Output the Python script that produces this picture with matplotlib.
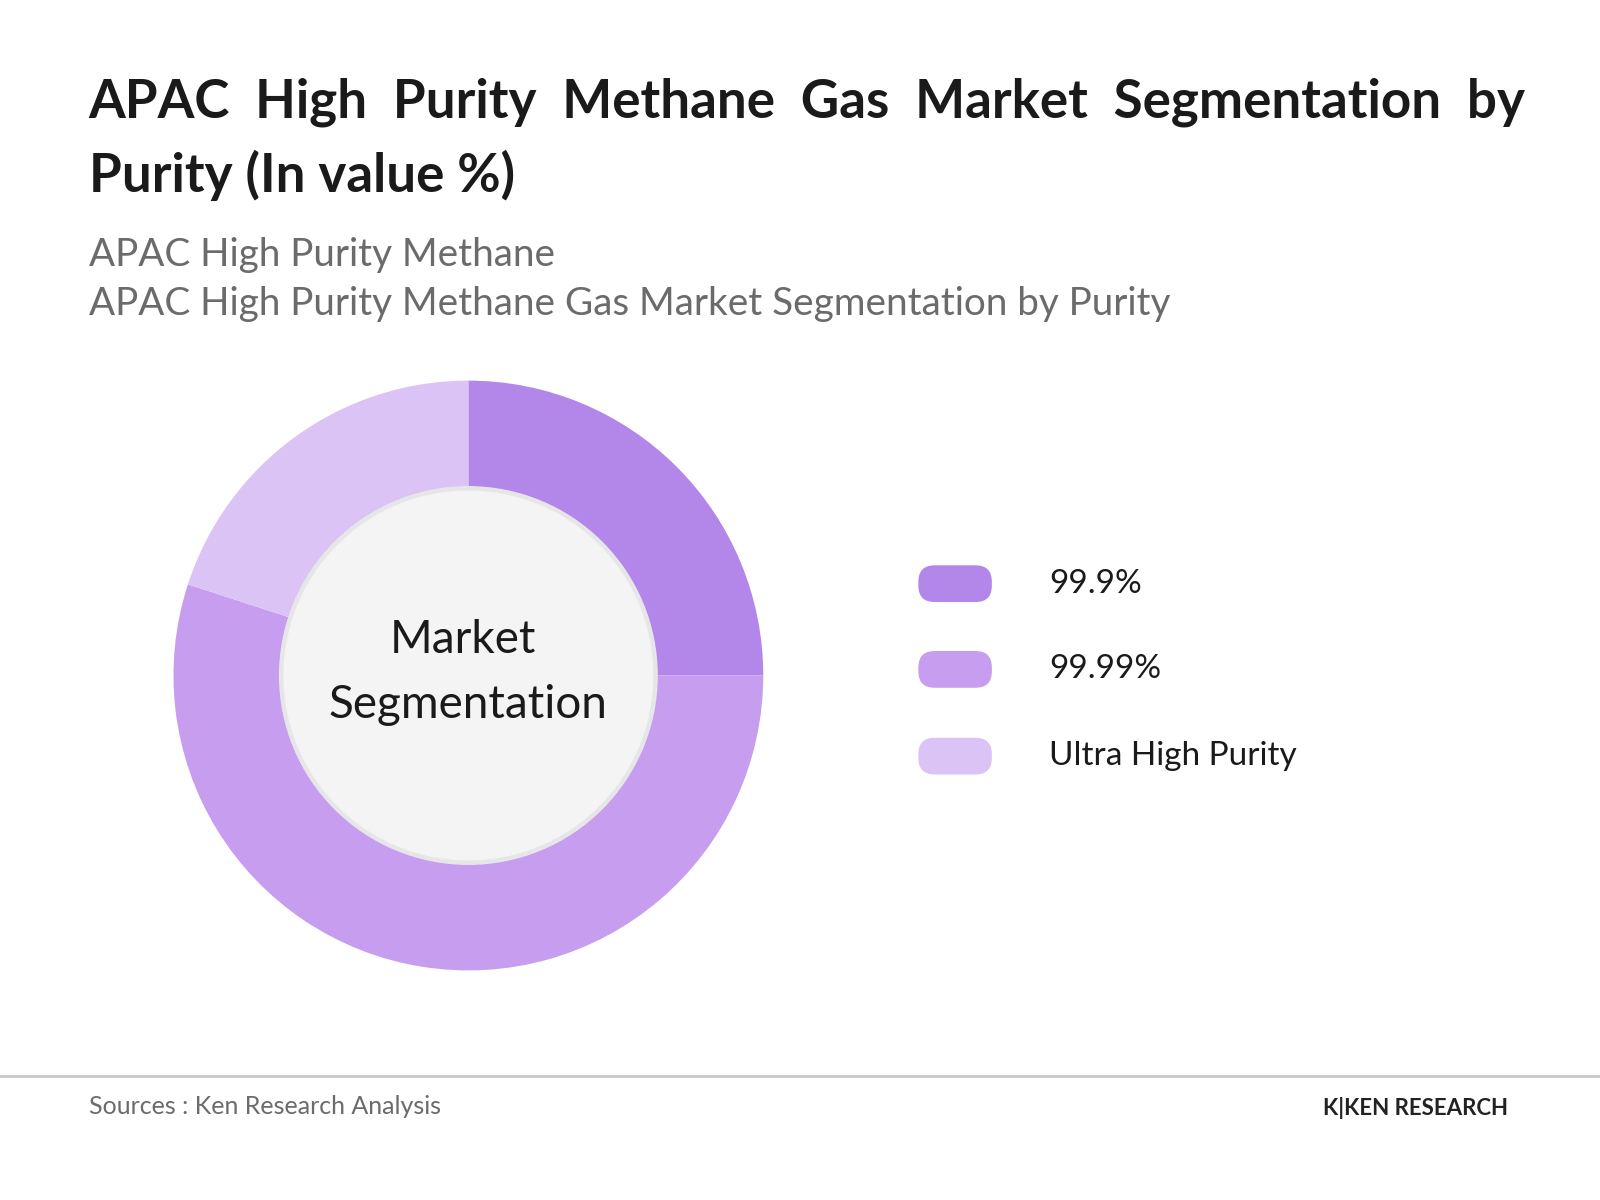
import matplotlib
matplotlib.use("Agg")
import matplotlib.pyplot as plt
from matplotlib.patches import Circle, FancyBboxPatch

categories = ["99.9%", "99.99%", "Ultra High Purity"]
values = [25, 55, 20]
colors = ["#b386ea", "#c69def", "#dcc3f5"]

W, H = 1568, 1176
fig = plt.figure(figsize=(16, 12), dpi=100)
fig.patch.set_facecolor("white")

def fx(x): return x / W
def fy(y): return 1 - y / H

fig.text(fx(87), fy(100), "APAC  High  Purity  Methane  Gas  Market  Segmentation  by",
         fontsize=38.2, fontweight="bold", family="Lato", color="#1a1a1a", va="center")
fig.text(fx(87), fy(172), "Purity (In value %)", fontsize=38.2, fontweight="bold",
         family="Lato", color="#1a1a1a", va="center")
fig.text(fx(87), fy(250), "APAC High Purity Methane", fontsize=27.8, family="Lato",
         color="#6b6b6b", va="center")
fig.text(fx(87), fy(298), "APAC High Purity Methane Gas Market Segmentation by Purity",
         fontsize=27.8, family="Lato", color="#6b6b6b", va="center")

# donut
cx, cy, R = 459, 662, 289
ax = fig.add_axes([fx(cx - R), fy(cy + R), 2 * R / W, 2 * R / H])
ax.pie(values, colors=colors, startangle=90, counterclock=False,
       wedgeprops=dict(width=1 - 185 / 289, linewidth=0), radius=1)
ax.add_patch(Circle((0, 0), 0.64, color="#e6e6e8", zorder=3))
ax.add_patch(Circle((0, 0), 0.625, color="#f4f4f5", zorder=4))
ax.text(-0.02, 0.12, "Market", ha="center", va="center", fontsize=33, family="Lato",
        color="#1a1a1a", zorder=5)
ax.text(0.0, -0.1, "Segmentation", ha="center", va="center", fontsize=33,
        family="Lato", color="#1a1a1a", zorder=5)
ax.set_xlim(-1, 1); ax.set_ylim(-1, 1); ax.set_aspect("auto"); ax.axis("off")

# legend
lax = fig.add_axes([0, 0, 1, 1]); lax.set_xlim(0, W); lax.set_ylim(H, 0); lax.axis("off")
for lab, col, y in zip(categories, colors, [572, 656, 741]):
    lax.add_patch(FancyBboxPatch((900, y - 18), 72, 36,
                  boxstyle="round,pad=0,rounding_size=16", color=col, linewidth=0))
    lax.text(1028, y, lab, fontsize=24, family="Lato", color="#1a1a1a", va="center")

lax.plot([0, W], [1054, 1054], color="#c8c8c8", lw=2)
lax.text(87, 1084, "Sources : Ken Research Analysis", fontsize=18, family="Lato",
         color="#6b6b6b", va="center")
lax.text(1478, 1086, "K|KEN RESEARCH", fontsize=16, family="Lato", fontweight="bold",
         color="#222222", va="center", ha="right")

fig.savefig("out.png", dpi=100)
